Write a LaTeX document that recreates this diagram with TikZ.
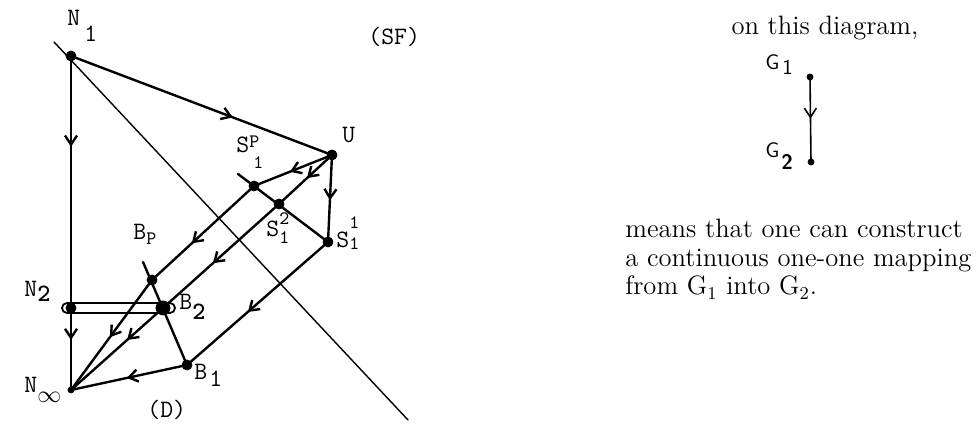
\documentclass[tikz,border=0pt]{standalone}
\usepackage{fontspec}
\usepackage{tkz-euclide}
\usetikzlibrary{arrows.meta,decorations.markings}

\newcommand\sml[1]{{\fontsize{9.5}{10}\selectfont #1}}

\tikzset{
  lbl/.style={font=\fontsize{12.5}{14}\ttfamily,anchor=base west,inner sep=0pt},
  glbl/.style={font=\fontsize{10.5}{12}\sffamily,anchor=base west,inner sep=0pt},
  txt/.style={font=\fontsize{13.3}{16}\selectfont,anchor=base west,inner sep=0pt},
  mid arrow/.style={postaction={decorate,decoration={markings,
      mark=at position #1 with {\arrow{Straight Barb[length=4.5pt,width=6pt]}}}}},
  mid arrow/.default=0.5
}

\begin{document}
\begin{tikzpicture}[x=0.5pt,y=0.5pt]
\useasboundingbox (0,0) rectangle (979,432);
\tkzSetUpLine[line width=1.2pt,color=black]
\tkzSetUpPoint[fill=black]

\tkzDefPoints{71/376/N1,332/277/U,254/246/SP,279/228/S2,328/190/S1,238/258/TS,
  152/152/Bp,143/170/TB,163/124/B2,187/67/B1,71/124/N2,71/42/Ninf,
  54/390/LA,408/12/LB,62/129/RA,175/119/RB,810/355/G1,811/270/G2}

% the long diagonal
\tkzDrawSegment[line width=0.7pt](LA,LB)

\tkzDrawSegment[mid arrow=0.62](N1,U)
\tkzDrawSegment[mid arrow=0.36](N1,N2)
\tkzDrawSegment[mid arrow=0.39](N2,Ninf)
\tkzDrawSegment[mid arrow=0.54](U,SP)
\tkzDrawSegment[mid arrow=0.47](U,S2)
\tkzDrawSegment[mid arrow=0.52](U,S1)
\tkzDrawSegments(TS,S1 TB,B1)
\tkzDrawSegment[mid arrow=0.61](SP,Bp)
\tkzDrawSegment[mid arrow=0.52](Bp,Ninf)
\tkzDrawSegment[mid arrow=0.57](S2,B2)
\tkzDrawSegment[mid arrow=0.39](B2,Ninf)
\tkzDrawSegment[mid arrow=0.57](S1,B1)
\tkzDrawSegment[mid arrow=0.52](B1,Ninf)

\draw[line width=0.9pt,rounded corners=2.5pt] (RA) rectangle (RB);

\tkzDrawPoints[size=5](N1,U,SP,S2,S1,Bp,B1,N2)
\tkzDrawPoints[size=7](B2)
\tkzDrawPoints[size=3](Ninf)

\node[lbl] (lN1) at (67,406) {N\hspace{2pt}\raisebox{-8pt}{1}};
\node[lbl] (lU) at (342,289) {U};
\node[lbl] (lSP) at (236,279) {S\rlap{\raisebox{2.5pt}{\sml{P}}}\hspace{2pt}\raisebox{-8pt}{\sml{1}}};
\node[lbl] (lS2) at (266,195) {S\rlap{\raisebox{6pt}{\sml{2}}}\raisebox{-3.5pt}{\sml{1}}};
\node[lbl] (lS1) at (336,184) {S\rlap{\raisebox{9.5pt}{\sml{1}}}\raisebox{-1pt}{\sml{1}}};
\node[lbl] (lBp) at (133,192) {B\raisebox{-2.5pt}{\sml{P}}};
\node[lbl] (lB2) at (179,122) {B\raisebox{-5pt}{\bfseries 2}};
\node[lbl] (lB1) at (194,52) {B\hspace{1pt}\raisebox{-3.5pt}{1}};
\node[lbl] (lN2) at (24,135) {N\raisebox{-2.5pt}{\bfseries 2}};
\node[lbl] (lNinf) at (24,39) {N\raisebox{-5pt}{$\infty$}};
\node[lbl] (lSF) at (368,387) {(SF)};
\node[lbl] (lD) at (147,14) {(D)};

% the legend on the right
\tkzDrawSegment[mid arrow=0.49,line width=0.8pt](G1,G2)
\tkzDrawPoints[size=3](G1,G2)
\node[glbl] (lG1) at (765,362) {G\hspace{1.5pt}\raisebox{-2.5pt}{1}};
\node[glbl] (lG2) at (765,274) {G\hspace{1pt}\raisebox{-6pt}{\bfseries 2}};

\node[txt,anchor=base] (t0) at (825,397) {on this diagram,};
\node[txt] (t1) at (625,194) {means that one can construct};
\node[txt] (t2) at (625,165) {a continuous one-one mapping};
\node[txt] (t3) at (625,137) {from G$_1$ into G$_2$.};
\end{tikzpicture}
\end{document}
